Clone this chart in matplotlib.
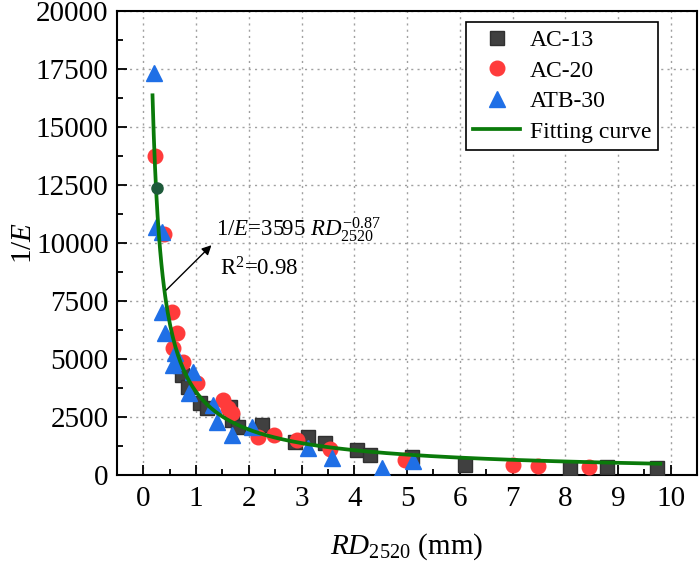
import numpy as np
import matplotlib
matplotlib.use("Agg")
import matplotlib.pyplot as plt
from matplotlib.ticker import MultipleLocator

plt.rcParams['font.family'] = ['Liberation Serif', 'DejaVu Serif']
plt.rcParams['mathtext.fontset'] = 'custom'
plt.rcParams['mathtext.rm'] = 'Liberation Serif'
plt.rcParams['mathtext.it'] = 'Liberation Serif:italic'

# ---- data ----
ac13_x = [0.70, 0.73, 0.85, 1.08, 1.20, 1.68, 1.65, 1.80, 2.25, 2.88, 3.13, 3.45, 4.05, 4.30, 5.09, 6.10, 8.09, 8.79, 9.73]
ac13_y = [4700, 4310, 3800, 3100, 2900, 2370, 2940, 2080, 2150, 1440, 1650, 1400, 1080, 860, 790, 450, 330, 360, 300]

ac20_x = [0.23, 0.40, 0.54, 0.64, 0.57, 0.75, 1.02, 1.52, 1.61, 1.68, 2.18, 2.47, 2.91, 3.54, 4.96, 7.01, 7.48, 8.45]
ac20_y = [13750, 10400, 7040, 6120, 5470, 4900, 3960, 3230, 2890, 2670, 1650, 1720, 1510, 1120, 650, 420, 380, 360]

atb30_x = [0.21, 0.25, 0.35, 0.35, 0.42, 0.61, 0.57, 0.64, 0.95, 0.86, 1.33, 1.40, 1.68, 2.06, 3.13, 3.57, 4.52, 5.12]
atb30_y = [17330, 10700, 10500, 7040, 6120, 5260, 4740, 4890, 4440, 3530, 3020, 2300, 1720, 2080, 1160, 760, 290, 600]

extra_x = [0.26]
extra_y = [12360]

fit_a = 3595
fit_b = -0.87
fit_xmin, fit_xmax = 0.175, 9.8

fig = plt.figure(figsize=(7, 5.65), dpi=100)
ax = fig.add_axes([0.167, 0.159, 0.829, 0.821])

ax.plot(ac13_x, ac13_y, ls='none', marker='s', ms=9.5, color='#404040',
        mec='#303030', label='AC-13', zorder=3)
ax.plot(ac20_x, ac20_y, ls='none', marker='o', ms=10.5, color='#ff3b3b',
        mec='#ff3b3b', label='AC-20', zorder=3)
ax.plot(atb30_x, atb30_y, ls='none', marker='^', ms=11.5, color='#1f6fe6',
        mec='#1f6fe6', label='ATB-30', zorder=3)
ax.plot(extra_x, extra_y, ls='none', marker='o', ms=8, color='#1e5a3a', zorder=5)

xf = np.linspace(fit_xmin, fit_xmax, 400)
ax.plot(xf, fit_a * xf ** fit_b, color='#0a7a0a', lw=2.7, label='Fitting curve', zorder=4)

ax.set_xlim(-0.5, 10.5)
ax.set_ylim(0, 20000)
ax.xaxis.set_major_locator(MultipleLocator(1))
ax.xaxis.set_minor_locator(MultipleLocator(0.5))
ax.yaxis.set_major_locator(MultipleLocator(2500))
ax.yaxis.set_minor_locator(MultipleLocator(1250))
ax.tick_params(which='both', direction='in', labelsize=21, top=False, right=False)
ax.tick_params(which='major', length=7, width=1.3, pad=8)
ax.tick_params(which='minor', length=4, width=1.3)
ax.tick_params(axis='y', which='major', pad=6)
for sp in ax.spines.values():
    sp.set_linewidth(1.5)
ax.grid(True, which='major', color='#a0a0a0', ls=(0, (1.5, 3)), lw=1)
ax.set_axisbelow(True)

ax.set_xlabel(r'$\mathit{RD}_{2520}$ (mm)', fontsize=21, labelpad=14)
ax.set_ylabel(r'1/$\mathit{E}$', fontsize=21)
ax.yaxis.set_label_coords(-0.138, 0.5)

ax.annotate('', xy=(1.33, 10000), xytext=(0.4, 7900),
            arrowprops=dict(arrowstyle='-|>', color='black', lw=1, mutation_scale=14),
            zorder=6)
ax.text(1.38, 10300, r'1/$\mathit{E}$=3595 $\mathit{RD}_{2520}^{-0.87}$', fontsize=16.5,
        va='baseline', ha='left', zorder=6)
ax.text(1.45, 8900, r'R$^2$=0.98', fontsize=16.5, va='center', ha='left', zorder=6)

leg = ax.legend(loc='upper right', bbox_to_anchor=(0.933, 0.976), fontsize=17,
                frameon=True, fancybox=False, edgecolor='black', framealpha=1,
                handlelength=2.0, borderpad=0.3, labelspacing=0.38, handletextpad=0.4,
                borderaxespad=0)
leg.get_frame().set_linewidth(1.2)

fig.savefig('out.png', dpi=100)
